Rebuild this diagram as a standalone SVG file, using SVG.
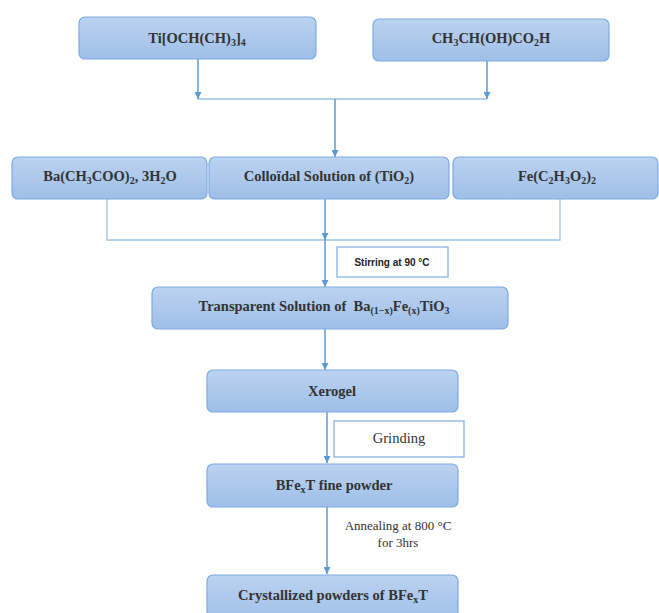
<svg xmlns="http://www.w3.org/2000/svg" width="659" height="613" viewBox="0 0 659 613">
<defs>
<linearGradient id="g" x1="0" y1="0" x2="0" y2="1">
<stop offset="0" stop-color="#bcd2f0"/>
<stop offset="1" stop-color="#9ebfe8"/>
</linearGradient>
<marker id="ah" viewBox="0 0 10 10" refX="10" refY="5" markerWidth="7" markerHeight="7" markerUnits="userSpaceOnUse" orient="auto">
<path d="M0,0 L10,5 L0,10 z" fill="#5b9bd5"/>
</marker>
</defs>
<style>
.box{fill:url(#g);stroke:#7eaae0;stroke-width:1.2}
.lbl{fill:#fff;stroke:#7eaae0;stroke-width:1.2}
.t{font-family:"Liberation Serif",serif;font-weight:bold;font-size:14.5px;fill:#333;text-anchor:middle}
.n{font-family:"Liberation Serif",serif;font-size:14.5px;fill:#333;text-anchor:middle}
.s{font-family:"Liberation Sans",sans-serif;font-weight:bold;font-size:10px;fill:#222;text-anchor:middle}
.sub{font-size:10px}
.c{fill:none;stroke:#5b9bd5;stroke-width:1.5}
.c2{fill:none;stroke:#9dc3e6;stroke-width:1.3}
</style>
<g id="connectors">
<path class="c2" d="M198,99 H487"/>
<path class="c" d="M198,59 V99" marker-end="url(#ah)"/>
<path class="c" d="M487,61 V99" marker-end="url(#ah)"/>
<path class="c" d="M335,99 V157" marker-end="url(#ah)"/>
<path class="c2" d="M107,199 V240 H560 V199"/>
<path class="c" d="M325,199 V240" marker-end="url(#ah)"/>
<path class="c" d="M325,240 V287" marker-end="url(#ah)"/>
<path class="c" d="M325,329 V370" marker-end="url(#ah)"/>
<path class="c" d="M327,412 V463" marker-end="url(#ah)"/>
<path class="c" d="M327,507 V574" marker-end="url(#ah)"/>
</g>
<g id="n1"><rect class="box" x="79" y="17" width="237" height="42" rx="6"/>
<text class="t" x="197" y="43">Ti[OCH(CH)<tspan class="sub" dy="3">3</tspan><tspan dy="-3">]</tspan><tspan class="sub" dy="3">4</tspan></text></g>
<g id="n2"><rect class="box" x="373" y="19" width="236" height="42" rx="6"/>
<text class="t" x="491" y="43">CH<tspan class="sub" dy="3">3</tspan><tspan dy="-3">CH(OH)CO</tspan><tspan class="sub" dy="3">2</tspan><tspan dy="-3">H</tspan></text></g>
<g id="n3"><rect class="box" x="12" y="157" width="195" height="42" rx="6"/>
<text class="t" x="110" y="181">Ba(CH<tspan class="sub" dy="3">3</tspan><tspan dy="-3">COO)</tspan><tspan class="sub" dy="3">2</tspan><tspan dy="-3">, 3H</tspan><tspan class="sub" dy="3">2</tspan><tspan dy="-3">O</tspan></text></g>
<g id="n4"><rect class="box" x="209" y="157" width="240" height="42" rx="6"/>
<text class="t" x="329" y="181">Colloïdal Solution of (TiO<tspan class="sub" dy="3">2</tspan><tspan dy="-3">)</tspan></text></g>
<g id="n5"><rect class="box" x="453" y="157" width="205" height="42" rx="6"/>
<text class="t" x="557" y="181">Fe(C<tspan class="sub" dy="3">2</tspan><tspan dy="-3">H</tspan><tspan class="sub" dy="3">3</tspan><tspan dy="-3">O</tspan><tspan class="sub" dy="3">2</tspan><tspan dy="-3">)</tspan><tspan class="sub" dy="3">2</tspan></text></g>
<g id="l1"><rect class="lbl" x="337" y="247" width="111" height="30"/>
<text class="s" x="392" y="266">Stirring at 90 °C</text></g>
<g id="n6"><rect class="box" x="152" y="287" width="356" height="42" rx="6"/>
<text class="t" x="324" y="311">Transparent Solution of&#160; Ba<tspan class="sub" dy="3">(1−x)</tspan><tspan dy="-3">Fe</tspan><tspan class="sub" dy="3">(x)</tspan><tspan dy="-3">TiO</tspan><tspan class="sub" dy="3">3</tspan></text></g>
<g id="n7"><rect class="box" x="207" y="370" width="251" height="42" rx="6"/>
<text class="t" x="332" y="396">Xerogel</text></g>
<g id="l2"><rect class="lbl" x="334" y="421" width="130" height="36"/>
<text class="n" x="399" y="443">Grinding</text></g>
<g id="n8"><rect class="box" x="207" y="464" width="251" height="43" rx="6"/>
<text class="t" x="334" y="490">BFe<tspan class="sub" dy="3">x</tspan><tspan dy="-3">T fine powder</tspan></text></g>
<g id="l3">
<text class="n" x="398" y="530" style="font-size:13px">Annealing at 800 °C</text>
<text class="n" x="398" y="547" style="font-size:13px">for 3hrs</text></g>
<g id="n9"><rect class="box" x="207" y="575" width="251" height="48" rx="6"/>
<text class="t" x="333" y="600">Crystallized powders of BFe<tspan class="sub" dy="3">x</tspan><tspan dy="-3">T</tspan></text></g>
</svg>
